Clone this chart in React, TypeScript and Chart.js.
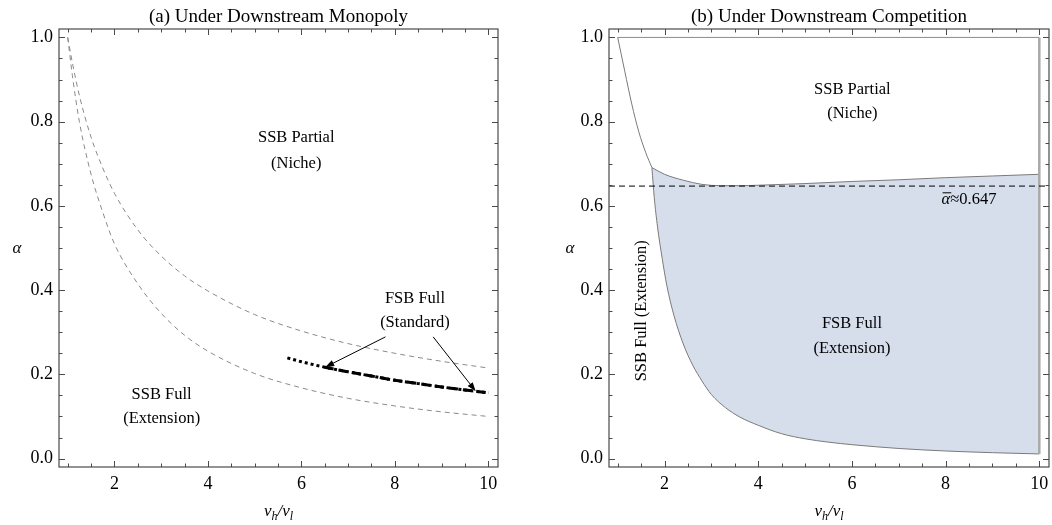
import React, { useEffect, useRef } from 'react';
import { Chart, registerables } from 'chart.js';

Chart.register(...registerables);

const FONT = '"Liberation Serif", "Times New Roman", serif';

// Axes
const X_MIN = 0.814;
const X_MAX = 10.207;
const Y_MIN = -0.02;
const Y_MAX = 1.02;
const xMajorTicks = [2, 4, 6, 8, 10];
const xMinorTicks = [1, 1.5, 2.5, 3, 3.5, 4.5, 5, 5.5, 6.5, 7, 7.5, 8.5, 9, 9.5];
const yMajorTicks = [0, 0.2, 0.4, 0.6, 0.8, 1.0];
const yMinorTicks = [0.05, 0.1, 0.15, 0.25, 0.3, 0.35, 0.45, 0.5, 0.55, 0.65, 0.7, 0.75, 0.85, 0.9, 0.95];

// Panel (a): Under Downstream Monopoly
const monoX = [1.0, 1.1, 1.25, 1.5, 1.75, 2, 2.5, 3, 3.5, 4, 5, 6, 7, 8, 9, 10];
const monoUpperY = [1.0, 0.94, 0.862, 0.763, 0.69, 0.63, 0.543, 0.481, 0.434, 0.398, 0.342, 0.303, 0.273, 0.25, 0.231, 0.215];
const monoLowerY = [1.0, 0.91, 0.8, 0.675, 0.585, 0.51, 0.415, 0.345, 0.293, 0.255, 0.202, 0.168, 0.143, 0.125, 0.111, 0.1];
const fsbX = [5.7, 6, 6.5, 7, 7.5, 8, 8.5, 9, 9.5, 10];
const fsbY = [0.239, 0.23, 0.217, 0.206, 0.196, 0.186, 0.178, 0.17, 0.163, 0.156];
const fsbDashedX = [6.5, 7, 7.5, 8, 8.5, 9, 9.5, 10];
const fsbDashedY = [0.217, 0.206, 0.196, 0.186, 0.178, 0.17, 0.163, 0.156];

// Panel (b): Under Downstream Competition
const nicheEdgeX = [1.0, 1.15, 1.3, 1.45, 1.6, 1.73];
const nicheEdgeY = [1.0, 0.92, 0.842, 0.776, 0.726, 0.691];
const nicheTopX = [1.0, 10];
const nicheTopY = [1.0, 1.0];
const rightEdgeX = [10, 10];
const rightEdgeY = [1.0, 0.011];
const fsbUpperX = [1.73, 2.0, 2.4, 2.8, 3.2, 3.6, 4, 5, 6, 7, 8, 9, 10];
const fsbUpperY = [0.691, 0.675, 0.661, 0.651, 0.648, 0.648, 0.649, 0.653, 0.658, 0.662, 0.667, 0.671, 0.675];
const fsbLowerX = [1.73, 1.78, 1.85, 1.95, 2.05, 2.2, 2.4, 2.6, 2.8, 3.0, 3.3, 3.6, 4.0, 4.5, 5, 5.5, 6, 7, 8, 9, 10];
const fsbLowerY = [0.691, 0.62, 0.55, 0.475, 0.41, 0.34, 0.272, 0.222, 0.184, 0.152, 0.121, 0.099, 0.079, 0.059, 0.047, 0.039, 0.033, 0.024, 0.018, 0.014, 0.011];
const alphaBarValue = 0.647;

// Annotations (data coordinates)
const textsA = [
  { text: 'SSB Partial', x: 5.89, y: 0.762 },
  { text: '(Niche)', x: 5.89, y: 0.7 },
  { text: 'FSB Full', x: 8.43, y: 0.379 },
  { text: '(Standard)', x: 8.43, y: 0.322 },
  { text: 'SSB Full', x: 3.01, y: 0.152 },
  { text: '(Extension)', x: 3.01, y: 0.095 },
];
const arrowsA = [
  { x1: 7.8, y1: 0.289, x2: 6.51, y2: 0.217 },
  { x1: 8.82, y1: 0.289, x2: 9.73, y2: 0.16 },
];
const textsB = [
  { text: 'SSB Partial', x: 6.01, y: 0.877 },
  { text: '(Niche)', x: 6.01, y: 0.82 },
  { text: 'FSB Full', x: 6.0, y: 0.321 },
  { text: '(Extension)', x: 6.0, y: 0.262 },
];
const rotatedTextsB = [{ text: 'SSB Full (Extension)', x: 1.51, y: 0.351 }];
const alphaBarLabel = { x: 8.5, y: 0.618, text: '≈0.647' };

const pts = (xs: number[], ys: number[]) => xs.map((x, i) => ({ x, y: ys[i] }));

function drawArrow(ctx: CanvasRenderingContext2D, x1: number, y1: number, x2: number, y2: number) {
  const ang = Math.atan2(y2 - y1, x2 - x1);
  const L = 9;
  const W = 3.2;
  ctx.beginPath();
  ctx.moveTo(x1, y1);
  ctx.lineTo(x2 - (L - 1) * Math.cos(ang), y2 - (L - 1) * Math.sin(ang));
  ctx.stroke();
  ctx.beginPath();
  ctx.moveTo(x2, y2);
  ctx.lineTo(x2 - L * Math.cos(ang) + W * Math.sin(ang), y2 - L * Math.sin(ang) - W * Math.cos(ang));
  ctx.lineTo(x2 - L * Math.cos(ang) - W * Math.sin(ang), y2 - L * Math.sin(ang) + W * Math.cos(ang));
  ctx.closePath();
  ctx.fill();
}

function decorPlugin(panel: any) {
  return {
    id: 'decor',
    afterDraw(chart: any) {
      const { ctx, chartArea: a, scales } = chart;
      const xs = scales.x;
      const ys = scales.y;
      ctx.save();
      // frame
      ctx.strokeStyle = '#4a4a4a';
      ctx.lineWidth = 1.2;
      ctx.strokeRect(a.left, a.top, a.right - a.left, a.bottom - a.top);
      // inward ticks on all four sides
      ctx.lineWidth = 1;
      ctx.beginPath();
      const xt = (vals: number[], len: number) => {
        vals.forEach((v) => {
          const p = Math.round(xs.getPixelForValue(v)) + 0.5;
          ctx.moveTo(p, a.bottom);
          ctx.lineTo(p, a.bottom - len);
          ctx.moveTo(p, a.top);
          ctx.lineTo(p, a.top + len);
        });
      };
      const yt = (vals: number[], len: number) => {
        vals.forEach((v) => {
          const p = Math.round(ys.getPixelForValue(v)) + 0.5;
          ctx.moveTo(a.left, p);
          ctx.lineTo(a.left + len, p);
          ctx.moveTo(a.right, p);
          ctx.lineTo(a.right - len, p);
        });
      };
      xt(xMajorTicks, 6);
      xt(xMinorTicks, 3.5);
      yt(yMajorTicks, 6);
      yt(yMinorTicks, 3.5);
      ctx.stroke();

      ctx.fillStyle = '#000';
      ctx.strokeStyle = '#000';
      // title
      ctx.font = `19px ${FONT}`;
      ctx.textAlign = 'center';
      ctx.textBaseline = 'middle';
      ctx.fillText(panel.title, (a.left + a.right) / 2, 17);

      // y axis label alpha
      ctx.font = `italic 17px ${FONT}`;
      ctx.fillText('α', a.left - panel.alphaOffset, 249);

      // x axis label v_h / v_l
      const big = `italic 17px ${FONT}`;
      const small = `italic 12px ${FONT}`;
      const parts = [
        { t: 'v', f: big, dy: 0 },
        { t: 'h', f: small, dy: 4 },
        { t: '/', f: big, dy: 0 },
        { t: 'v', f: big, dy: 0 },
        { t: 'l', f: small, dy: 4 },
      ];
      let total = 0;
      parts.forEach((p) => {
        ctx.font = p.f;
        total += ctx.measureText(p.t).width;
      });
      let cx = (a.left + a.right) / 2 - total / 2;
      ctx.textAlign = 'left';
      ctx.textBaseline = 'alphabetic';
      parts.forEach((p) => {
        ctx.font = p.f;
        ctx.fillText(p.t, cx, 516 + p.dy);
        cx += ctx.measureText(p.t).width;
      });

      // annotations
      ctx.font = `16.5px ${FONT}`;
      ctx.textAlign = 'center';
      ctx.textBaseline = 'middle';
      panel.texts.forEach((t: any) => {
        ctx.fillText(t.text, xs.getPixelForValue(t.x), ys.getPixelForValue(t.y));
      });
      (panel.rotated || []).forEach((t: any) => {
        ctx.save();
        ctx.translate(xs.getPixelForValue(t.x), ys.getPixelForValue(t.y));
        ctx.rotate(-Math.PI / 2);
        ctx.fillText(t.text, 0, 0);
        ctx.restore();
      });
      ctx.lineWidth = 1;
      (panel.arrows || []).forEach((r: any) => {
        drawArrow(
          ctx,
          xs.getPixelForValue(r.x1),
          ys.getPixelForValue(r.y1),
          xs.getPixelForValue(r.x2),
          ys.getPixelForValue(r.y2)
        );
      });
      if (panel.alphaBar) {
        const lb = panel.alphaBar;
        ctx.font = `italic 16.5px ${FONT}`;
        const wa = ctx.measureText('α').width;
        ctx.font = `16.5px ${FONT}`;
        const wr = ctx.measureText(lb.text).width;
        const sx = xs.getPixelForValue(lb.x) - (wa + wr) / 2;
        const base = ys.getPixelForValue(lb.y) + 6;
        ctx.textAlign = 'left';
        ctx.textBaseline = 'alphabetic';
        ctx.font = `italic 16.5px ${FONT}`;
        ctx.fillText('α', sx, base);
        ctx.font = `16.5px ${FONT}`;
        ctx.fillText(lb.text, sx + wa, base);
        ctx.beginPath();
        ctx.moveTo(sx + 1, base - 11.5);
        ctx.lineTo(sx + wa + 1, base - 11.5);
        ctx.stroke();
      }
      ctx.restore();
    },
  };
}

function makeOptions(panel: any) {
  const tickFont = { family: FONT, size: 18 };
  return {
    animation: false,
    responsive: false,
    devicePixelRatio: 1,
    layout: { padding: { left: panel.padLeft, right: panel.padRight, top: 29, bottom: 0 } },
    plugins: {
      legend: { display: false },
      tooltip: { enabled: false },
      title: { display: false },
    },
    elements: { point: { radius: 0 } },
    scales: {
      x: {
        type: 'linear',
        min: X_MIN,
        max: X_MAX,
        grid: { display: false, drawTicks: false, tickLength: 0 },
        border: { display: false },
        ticks: {
          color: '#000',
          font: tickFont,
          padding: 6,
          maxRotation: 0,
          autoSkip: false,
          callback: (v: any) => String(v),
        },
        afterBuildTicks: (s: any) => {
          s.ticks = xMajorTicks.map((v) => ({ value: v }));
        },
        afterFit: (s: any) => {
          s.height = 58;
          s.paddingLeft = 0;
          s.paddingRight = 0;
        },
      },
      y: {
        type: 'linear',
        min: Y_MIN,
        max: Y_MAX,
        grid: { display: false, drawTicks: false, tickLength: 0 },
        border: { display: false },
        ticks: {
          color: '#000',
          font: tickFont,
          padding: 6,
          autoSkip: false,
          callback: (v: any) => Number(v).toFixed(1),
        },
        afterBuildTicks: (s: any) => {
          s.ticks = yMajorTicks.map((v) => ({ value: v }));
        },
        afterFit: (s: any) => {
          s.width = 50;
        },
      },
    },
  };
}

const grayDash = {
  borderColor: '#8a8a8a',
  borderWidth: 1,
  borderDash: [5, 4],
  cubicInterpolationMode: 'monotone',
  fill: false,
  pointRadius: 0,
};

export default function App() {
  const refA = useRef<HTMLCanvasElement>(null);
  const refB = useRef<HTMLCanvasElement>(null);

  useEffect(() => {
    const panelA = {
      title: '(a) Under Downstream Monopoly',
      alphaOffset: 42,
      padLeft: 9,
      padRight: 28,
      texts: textsA,
      arrows: arrowsA,
    };
    const panelB = {
      title: '(b) Under Downstream Competition',
      alphaOffset: 39,
      padLeft: 33,
      padRight: 3,
      texts: textsB,
      rotated: rotatedTextsB,
      alphaBar: alphaBarLabel,
    };
    const chartA = new Chart(refA.current as HTMLCanvasElement, {
      type: 'line',
      data: {
        datasets: [
          { ...grayDash, data: pts(monoX, monoUpperY) },
          { ...grayDash, data: pts(monoX, monoLowerY) },
          {
            data: pts(fsbX, fsbY),
            borderColor: '#000',
            borderWidth: 3,
            borderDash: [3, 3],
            cubicInterpolationMode: 'monotone',
            fill: false,
            pointRadius: 0,
          },
          {
            data: pts(fsbDashedX, fsbDashedY),
            borderColor: '#000',
            borderWidth: 3,
            borderDash: [9, 5],
            cubicInterpolationMode: 'monotone',
            fill: false,
            pointRadius: 0,
          },
        ] as any,
      },
      options: makeOptions(panelA) as any,
      plugins: [decorPlugin(panelA)],
    });

    const chartB = new Chart(refB.current as HTMLCanvasElement, {
      type: 'line',
      data: {
        datasets: [
          {
            data: [
              { x: X_MIN, y: alphaBarValue },
              { x: X_MAX, y: alphaBarValue },
            ],
            borderColor: '#000',
            borderWidth: 1,
            borderDash: [6, 4],
            fill: false,
            pointRadius: 0,
            order: 0,
          },
          {
            data: pts(rightEdgeX, rightEdgeY),
            borderColor: '#a9a9a9',
            borderWidth: 2.5,
            fill: false,
            pointRadius: 0,
            order: 1,
          },
          {
            data: pts(fsbUpperX, fsbUpperY),
            borderColor: '#7a7a7a',
            borderWidth: 1,
            cubicInterpolationMode: 'monotone',
            fill: { target: 3 },
            backgroundColor: 'rgb(214, 222, 236)',
            pointRadius: 0,
            order: 5,
          },
          {
            data: pts(fsbLowerX, fsbLowerY),
            borderColor: '#7a7a7a',
            borderWidth: 1,
            cubicInterpolationMode: 'monotone',
            fill: false,
            pointRadius: 0,
            order: 2,
          },
          {
            data: pts(nicheEdgeX, nicheEdgeY),
            borderColor: '#7a7a7a',
            borderWidth: 1,
            cubicInterpolationMode: 'monotone',
            fill: false,
            pointRadius: 0,
            order: 2,
          },
          {
            data: pts(nicheTopX, nicheTopY),
            borderColor: '#8c8c8c',
            borderWidth: 1,
            fill: false,
            pointRadius: 0,
            order: 2,
          },
        ] as any,
      },
      options: makeOptions(panelB) as any,
      plugins: [decorPlugin(panelB)],
    });

    return () => {
      chartA.destroy();
      chartB.destroy();
    };
  }, []);

  return (
    <div style={{ position: 'absolute', left: 0, top: 0, width: 1052, height: 525, background: '#fff' }}>
      <canvas ref={refA} width={526} height={525} style={{ position: 'absolute', left: 0, top: 0 }} />
      <canvas ref={refB} width={526} height={525} style={{ position: 'absolute', left: 526, top: 0 }} />
    </div>
  );
}
